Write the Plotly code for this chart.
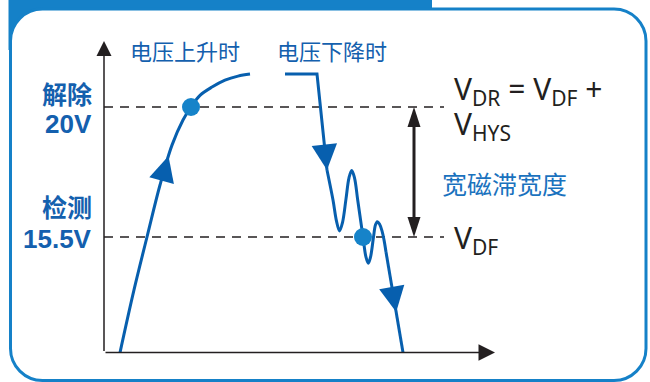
import plotly.graph_objects as go

# ---------------- data (time: arbitrary units, voltage: V) ----------------
release_v = 20.0     # 解除 20V  (V_DR)
detect_v = 15.5      # 检测 15.5V (V_DF)

# rising supply (电压上升时)
rise_t = [120, 134, 147, 160, 172, 183, 191, 200, 212, 225, 238, 250]
rise_v = [11.5, 13.67, 15.50, 17.30, 18.68, 19.55, 20.00, 20.40, 20.69, 20.93, 21.07, 21.14]

# falling supply (电压下降时): flat, drop, ringing, final drop
fall_t = [285, 317, 327]
fall_v = [21.14, 21.14, 17.82]
ring_t = [327, 333, 336.5, 339.5, 342.5, 346, 349, 351.7, 354.5, 357.7, 363,
          366, 368.3, 370.5, 373.5, 375.5, 377.3, 379.5, 382, 384, 386]
ring_v = [17.82, 16.78, 16.05, 15.71, 16.00, 16.82, 17.55, 17.80, 17.55, 16.78, 15.50,
          14.80, 14.59, 14.80, 15.50, 15.92, 16.03, 15.95, 15.71, 15.40, 14.98]
tail_t = [386, 403]
tail_v = [14.98, 11.5]

# threshold crossing points
dot_t = [191, 363]
dot_v = [release_v, detect_v]

# direction arrows on curves: (tip_t, tip_v, tail_t, tail_v)
flow_arrows = [
    (168.5, 18.30, 161.2, 17.40),
    (327.0, 17.82, 324.4, 18.68),
    (396.2, 12.90, 391.8, 13.76),
]

# hysteresis width marker
hys_t = 414

# labels
top_labels = ["电压上升时", "电压下降时"]
left_labels = [("解除", "20V"), ("检测", "15.5V")]
vdr_label = "V<sub>DR</sub> = V<sub>DF</sub> +"
vhys_label = "V<sub>HYS</sub>"
vdf_label = "V<sub>DF</sub>"
hys_label = "宽磁滞宽度"

# ---------------- layout helpers ----------------
W, H = 650, 382
PX_PER_V = 130 / 4.5
def volt_at(py):
    return release_v - (py - 107) / PX_PER_V
def X(px):
    return px / W
def Y(py):
    return 1 - py / H

LINE_BLUE = "#075fae"
DOT_BLUE = "#1683c9"
FRAME_BLUE = "#1581c8"
TEXT_BLUE = "#1460ae"
BLACK = "#231f20"
CJK = "Noto Sans CJK SC"

fig = go.Figure()

fig.add_trace(go.Scatter(x=rise_t, y=rise_v, mode="lines",
                         line=dict(color=LINE_BLUE, width=3, shape="spline"),
                         hoverinfo="skip"))
fig.add_trace(go.Scatter(x=fall_t, y=fall_v, mode="lines",
                         line=dict(color=LINE_BLUE, width=3),
                         hoverinfo="skip"))
fig.add_trace(go.Scatter(x=ring_t, y=ring_v, mode="lines",
                         line=dict(color=LINE_BLUE, width=3, shape="spline"),
                         hoverinfo="skip"))
fig.add_trace(go.Scatter(x=tail_t, y=tail_v, mode="lines",
                         line=dict(color=LINE_BLUE, width=3),
                         hoverinfo="skip"))
fig.add_trace(go.Scatter(x=dot_t, y=dot_v, mode="markers",
                         marker=dict(color=DOT_BLUE, size=18, line=dict(width=0)),
                         hoverinfo="skip"))

# hysteresis double arrow: shaft + two arrow heads
shaft_inset = 8 / PX_PER_V
fig.add_trace(go.Scatter(x=[hys_t, hys_t], y=[release_v - shaft_inset, detect_v + shaft_inset],
                         mode="lines", line=dict(color=BLACK, width=3), hoverinfo="skip"))
fig.add_trace(go.Scatter(x=[hys_t, hys_t], y=[release_v, detect_v], mode="markers",
                         marker=dict(symbol="arrow", size=21, angle=[0, 180], color=BLACK,
                                     line=dict(width=0)),
                         hoverinfo="skip"))

# ---------------- frame ----------------
def rounded_path(x0, y0, x1, y1, r):
    k = 0.5523 * r
    def P(x, y):
        return f"{X(x):.5f},{Y(y):.5f}"
    s = f"M{P(x0 + r, y0)} L{P(x1 - r, y0)} "
    s += f"C{P(x1 - r + k, y0)} {P(x1, y0 + r - k)} {P(x1, y0 + r)} "
    s += f"L{P(x1, y1 - r)} "
    s += f"C{P(x1, y1 - r + k)} {P(x1 - r + k, y1)} {P(x1 - r, y1)} "
    s += f"L{P(x0 + r, y1)} "
    s += f"C{P(x0 + r - k, y1)} {P(x0, y1 - r + k)} {P(x0, y1 - r)} "
    s += f"L{P(x0, y0 + r)} "
    s += f"C{P(x0, y0 + r - k)} {P(x0 + r - k, y0)} {P(x0 + r, y0)} Z"
    return s

shapes = [
    dict(type="rect", xref="paper", yref="paper", x0=X(8.5), x1=X(432), y0=Y(50), y1=Y(0),
         fillcolor=FRAME_BLUE, line=dict(width=0), layer="below"),
    dict(type="path", xref="paper", yref="paper", path=rounded_path(10.5, 9, 646, 380.5, 32),
         fillcolor="white", line=dict(color=FRAME_BLUE, width=3), layer="below"),
]
# threshold dashed lines
for v in (release_v, detect_v):
    shapes.append(dict(type="line", xref="x", yref="y", x0=104, x1=444, y0=v, y1=v,
                       line=dict(color=BLACK, width=1.7, dash="9px,7px"), layer="below"))

annotations = []
# axes with arrowheads
axis_origin_t, axis_origin_v = 104, 11.5
annotations.append(dict(x=495, y=axis_origin_v, ax=axis_origin_t, ay=axis_origin_v,
                        xref="x", yref="y", axref="x", ayref="y", text="", showarrow=True,
                        arrowhead=2, arrowsize=2.2, arrowwidth=1.5, arrowcolor=BLACK))
annotations.append(dict(x=axis_origin_t, y=volt_at(41), ax=axis_origin_t, ay=axis_origin_v,
                        xref="x", yref="y", axref="x", ayref="y", text="", showarrow=True,
                        arrowhead=2, arrowsize=2.0, arrowwidth=1.5, arrowcolor=BLACK))
# flow arrows
for tt, tv, at, av in flow_arrows:
    annotations.append(dict(x=tt, y=tv, ax=at, ay=av,
                            xref="x", yref="y", axref="x", ayref="y", text="", showarrow=True,
                            arrowhead=2, arrowsize=1.7, arrowwidth=3, arrowcolor=LINE_BLUE))

# text labels
for lab, cx in zip(top_labels, (185, 332)):
    annotations.append(dict(x=X(cx), y=Y(50), xref="paper", yref="paper", text=lab,
                            xanchor="center", yanchor="middle", showarrow=False,
                            font=dict(family=CJK, size=22, color=TEXT_BLUE)))
for (cjk, num), (cy1, cy2) in zip(left_labels, [(93, 124), (206, 239)]):
    annotations.append(dict(x=X(94), y=Y(cy1), xref="paper", yref="paper", text=f"<b>{cjk}</b>",
                            xanchor="right", yanchor="middle", showarrow=False,
                            font=dict(family=CJK, size=25, color=TEXT_BLUE)))
    annotations.append(dict(x=X(94), y=Y(cy2), xref="paper", yref="paper", text=f"<b>{num}</b>",
                            xanchor="right", yanchor="middle", showarrow=False,
                            font=dict(family="Liberation Sans", size=26, color=TEXT_BLUE)))

for lab, top in ((vdr_label, 66), (vhys_label, 101), (vdf_label, 215)):
    annotations.append(dict(x=X(452), y=Y(top), xref="paper", yref="paper", text=lab,
                            xanchor="left", yanchor="top", showarrow=False,
                            font=dict(family="Noto Sans", size=30, color=BLACK)))
annotations.append(dict(x=X(440), y=Y(183), xref="paper", yref="paper", text=hys_label,
                        xanchor="left", yanchor="middle", showarrow=False,
                        font=dict(family=CJK, size=25, color="#1a72be")))

fig.update_layout(
    width=W, height=H, autosize=False,
    margin=dict(l=0, r=0, t=0, b=0, pad=0),
    paper_bgcolor="white", plot_bgcolor="white",
    showlegend=False,
    xaxis=dict(range=[0, W], visible=False, fixedrange=True),
    yaxis=dict(range=[volt_at(H), volt_at(0)], visible=False, fixedrange=True),
    shapes=shapes, annotations=annotations,
)

fig.write_html("out.html", config={"displayModeBar": False},
               post_script="document.body.style.margin='0';document.body.style.overflow='hidden';")
